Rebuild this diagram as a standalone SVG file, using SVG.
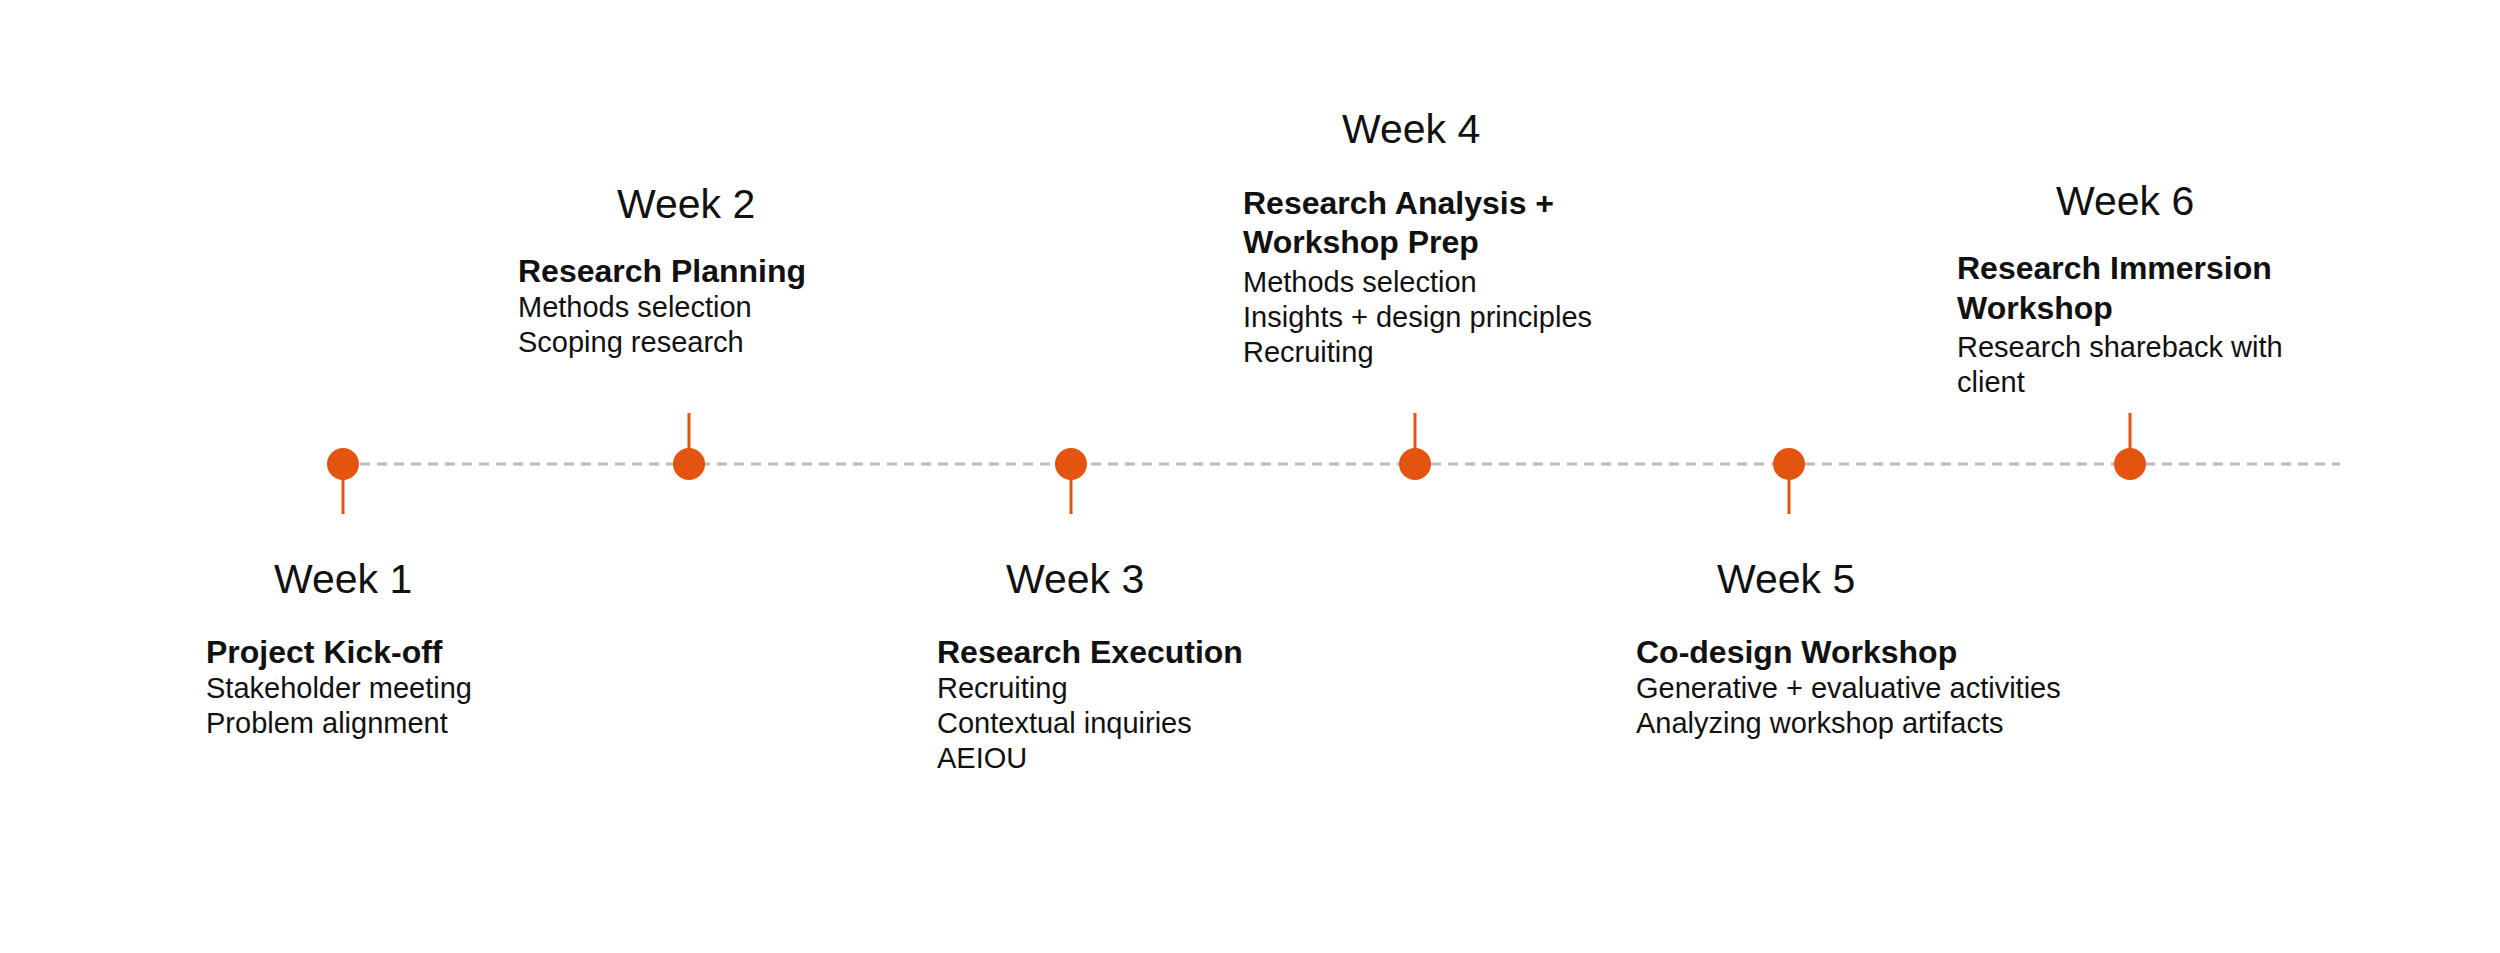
<svg xmlns="http://www.w3.org/2000/svg" width="2500" height="953" viewBox="0 0 2500 953">
<style>
.wk{font-family:"Liberation Sans",Arial,sans-serif;font-size:41px;fill:#111}
.tt{font-family:"Liberation Sans",Arial,sans-serif;font-size:32px;font-weight:bold;fill:#111}
.bd{font-family:"Liberation Sans",Arial,sans-serif;font-size:29px;fill:#111}
.dot{fill:#E2540F}
.stem{stroke:#E2540F;stroke-width:3}
</style>
<rect width="2500" height="953" fill="#fff"/>
<g id="connectors">
<line x1="343" y1="464" x2="2340" y2="464" stroke="#BBBBBB" stroke-width="3" stroke-dasharray="10,7"/>
<line class="stem" x1="343" y1="464" x2="343" y2="514"/>
<line class="stem" x1="689" y1="464" x2="689" y2="413"/>
<line class="stem" x1="1071" y1="464" x2="1071" y2="514"/>
<line class="stem" x1="1415" y1="464" x2="1415" y2="413"/>
<line class="stem" x1="1789" y1="464" x2="1789" y2="514"/>
<line class="stem" x1="2130" y1="464" x2="2130" y2="413"/>
</g>
<g id="week1">
<circle class="dot" cx="343" cy="464" r="16"/>
<text class="wk" x="274" y="593">Week 1</text>
<text class="tt" x="206" y="663">Project Kick-off</text>
<text class="bd" x="206" y="698">Stakeholder meeting</text>
<text class="bd" x="206" y="733">Problem alignment</text>
</g>
<g id="week2">
<circle class="dot" cx="689" cy="464" r="16"/>
<text class="wk" x="617" y="218">Week 2</text>
<text class="tt" x="518" y="282">Research Planning</text>
<text class="bd" x="518" y="317">Methods selection</text>
<text class="bd" x="518" y="352">Scoping research</text>
</g>
<g id="week3">
<circle class="dot" cx="1071" cy="464" r="16"/>
<text class="wk" x="1006" y="593">Week 3</text>
<text class="tt" x="937" y="663">Research Execution</text>
<text class="bd" x="937" y="698">Recruiting</text>
<text class="bd" x="937" y="733">Contextual inquiries</text>
<text class="bd" x="937" y="768">AEIOU</text>
</g>
<g id="week4">
<circle class="dot" cx="1415" cy="464" r="16"/>
<text class="wk" x="1342" y="143">Week 4</text>
<text class="tt" x="1243" y="214">Research Analysis +</text>
<text class="tt" x="1243" y="253">Workshop Prep</text>
<text class="bd" x="1243" y="292">Methods selection</text>
<text class="bd" x="1243" y="327">Insights + design principles</text>
<text class="bd" x="1243" y="362">Recruiting</text>
</g>
<g id="week5">
<circle class="dot" cx="1789" cy="464" r="16"/>
<text class="wk" x="1717" y="593">Week 5</text>
<text class="tt" x="1636" y="663">Co-design Workshop</text>
<text class="bd" x="1636" y="698">Generative + evaluative activities</text>
<text class="bd" x="1636" y="733">Analyzing workshop artifacts</text>
</g>
<g id="week6">
<circle class="dot" cx="2130" cy="464" r="16"/>
<text class="wk" x="2056" y="215">Week 6</text>
<text class="tt" x="1957" y="279">Research Immersion</text>
<text class="tt" x="1957" y="319">Workshop</text>
<text class="bd" x="1957" y="357">Research shareback with</text>
<text class="bd" x="1957" y="392">client</text>
</g>
</svg>
